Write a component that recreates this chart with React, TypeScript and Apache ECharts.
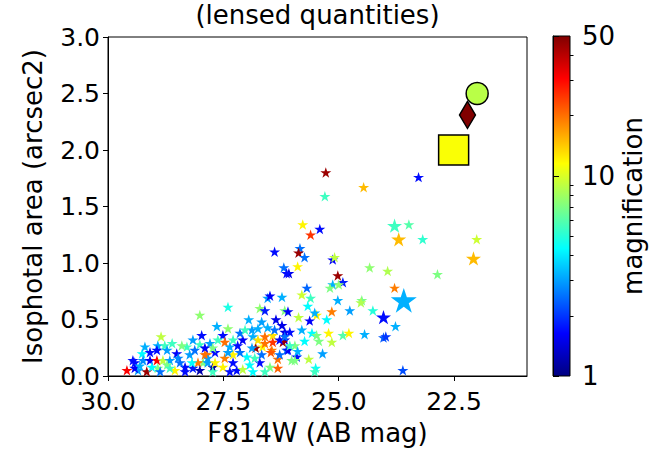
import React, { useEffect, useRef } from "react";
import * as echarts from "echarts";

const FONT = "DejaVu Sans";

// Regular star markers: F814W magnitude, isophotal area, magnification
const magAB = [
  25.28, 25.30, 24.46, 23.27, 25.78, 25.61, 25.41, 26.39, 25.84, 25.87, 25.74, 26.19, 26.08, 26.13, 25.89, 25.13,
  25.09, 25.02, 24.91, 25.13, 25.19, 25.00, 25.69, 25.80, 25.61, 25.67, 26.23, 26.17, 25.87, 25.48, 25.52, 25.63,
  25.15, 25.26, 25.02, 24.76, 24.50, 24.52, 25.80, 25.58, 25.48, 25.43, 25.22, 25.15, 24.91, 24.78, 24.44, 25.74,
  25.35, 25.65, 25.50, 26.36, 26.23, 26.17, 26.06, 26.17, 26.21, 26.43, 26.45, 26.32, 26.32, 25.91, 26.02, 26.13,
  23.48, 23.18, 22.01, 24.33, 23.94, 22.86, 23.79, 24.26, 23.77, 24.03, 23.98, 23.61,
  28.01, 27.40, 26.71, 26.60, 26.54, 26.49, 26.10, 26.95, 27.64, 27.40, 27.51, 27.47, 27.29, 27.08, 26.88, 26.75,
  26.54, 26.60, 26.43, 26.28, 26.80, 26.65, 26.47, 27.86, 27.68, 27.47, 27.29, 26.99, 26.88, 26.71, 27.73, 27.51,
  27.29, 27.21, 27.08, 26.93, 26.49, 27.94, 27.97, 27.84, 28.85, 28.92, 28.77, 28.94, 28.72, 28.51, 28.29, 28.01,
  27.79, 29.26, 29.42, 29.24, 29.09, 28.94, 28.81, 28.66, 28.48, 28.23, 28.05, 27.90, 29.59, 29.35, 29.16, 28.92,
  28.55, 28.33, 28.16, 27.84, 29.42, 29.05, 28.72, 28.18, 27.14, 26.86, 26.17, 26.10, 26.60, 29.46, 29.31, 27.62,
  27.36, 27.14, 26.82, 26.67, 28.44, 28.66, 28.12, 27.73, 26.28, 25.95, 25.89, 27.73, 26.86, 25.52,
  29.20, 29.09, 28.61, 28.40, 28.16, 27.90, 27.68, 27.40, 27.19, 27.03, 26.75, 26.67, 26.39, 26.06, 25.95, 28.33,
  28.87, 27.36, 26.60, 28.01,
];
const isoArea = [
  1.80, 1.59, 1.67, 1.76, 1.34, 1.25, 1.30, 1.10, 1.13, 1.09, 1.05, 0.96, 0.91, 0.91, 0.97, 1.03,
  1.05, 0.89, 0.83, 0.81, 0.78, 0.81, 0.78, 0.72, 0.69, 0.62, 0.70, 0.58, 0.52, 0.54, 0.56, 0.49,
  0.57, 0.50, 0.67, 0.58, 0.67, 0.65, 0.41, 0.38, 0.36, 0.31, 0.38, 0.30, 0.36, 0.38, 0.37, 0.31,
  0.20, 0.15, 0.07, 0.50, 0.45, 0.39, 0.39, 0.32, 0.30, 0.30, 0.23, 0.15, 0.07, 0.17, 0.14, 0.23,
  1.34, 1.21, 1.21, 0.96, 0.93, 0.90, 0.78, 0.58, 0.44, 0.34, 0.35, 0.05,
  0.54, 0.61, 0.60, 0.58, 0.69, 0.71, 0.57, 0.50, 0.44, 0.42, 0.36, 0.30, 0.32, 0.32, 0.41, 0.42,
  0.43, 0.35, 0.36, 0.32, 0.25, 0.26, 0.21, 0.19, 0.21, 0.16, 0.19, 0.17, 0.25, 0.12, 0.08, 0.08,
  0.12, 0.05, 0.06, 0.10, 0.08, 0.12, 0.36, 0.16, 0.35, 0.27, 0.27, 0.23, 0.23, 0.20, 0.26, 0.28,
  0.29, 0.20, 0.12, 0.14, 0.14, 0.14, 0.14, 0.14, 0.16, 0.19, 0.12, 0.19, 0.05, 0.05, 0.04, 0.07,
  0.05, 0.08, 0.07, 0.12, 0.07, 0.08, 0.10, 0.12, 0.38, 0.35, 0.35, 0.23, 0.29, 0.14, 0.09, 0.32,
  0.26, 0.21, 0.16, 0.19, 0.12, 0.07, 0.23, 0.25, 0.19, 0.27, 0.22, 0.04, 0.04, 0.04,
  0.26, 0.21, 0.29, 0.27, 0.32, 0.25, 0.12, 0.21, 0.27, 0.41, 0.32, 0.48, 0.41, 0.27, 0.14, 0.04,
  0.04, 0.04, 0.04, 0.05,
];
const magnification = [
  45, 5.5, 15, 1.7, 12, 25, 1.7, 1.7, 2.5, 45, 2.5, 2.5, 1.5, 1.7, 12, 1.6,
  9, 45, 1.8, 3.2, 7, 7.5, 2.4, 9.5, 5.5, 4.3, 3.2, 7, 9, 12, 3.2, 1.6,
  19, 4.3, 3.2, 3.0, 7, 8.5, 3.2, 4.3, 7, 7, 12, 9, 6, 12, 3.2, 4.3,
  3.0, 9, 4.5, 1.5, 1.5, 1.5, 1.7, 1.5, 45, 25, 19, 20, 21, 1.7, 7, 2.5,
  6, 5.2, 9.5, 7.5, 8.5, 7, 19, 5, 3.2, 2.3, 2.0, 2.2,
  7.5, 4.8, 7.5, 1.8, 3.0, 1.6, 1.6, 3.2, 3.2, 7.5, 1.7, 20, 5.5, 1.6, 3.0, 3.2,
  3.2, 20, 13, 1.6, 45, 12, 22, 20, 1.7, 19, 12, 4.3, 3.0, 1.7, 1.1, 12,
  1.7, 1.7, 9, 4.3, 7, 7, 1.7, 3.0, 9, 3.2, 5.5, 1.7, 3.0, 1.6, 5.5, 5.5,
  3.0, 4.3, 1.7, 2.8, 1.6, 31, 9, 3.0, 2.8, 3.0, 19, 20, 31, 3.0, 45, 7,
  12, 1.7, 1.8, 3.0, 1.6, 4.3, 7, 4.3, 2.5, 3.2, 2.5, 1.6, 20, 1.7, 3.2, 5.5,
  3.2, 2.5, 5.5, 2.5, 2.5, 5.5, 2.5, 7, 2.5, 7, 3.2, 5.5, 4.3, 5.5,
  3.2, 1.7, 5.5, 7, 3.0, 1.6, 12, 3.0, 1.7, 5.5, 13, 3.0, 2.5, 5.5, 7, 1.7,
  2.5, 1.7, 5.5, 1.2,
];

// Medium-sized stars
const medMag = [23.79, 23.70, 22.08, 24.03];
const medArea = [1.33, 1.21, 1.04, 0.52];
const medMagnification = [5.5, 15, 15, 1.7];

// Large star
const bigMag = [23.59];
const bigArea = [0.67];
const bigMagnification = [3.2];

// Highlighted objects
const circleMag = [22.0];
const circleArea = [2.5];
const circleMagnification = [8.8];
const diamondMag = [22.21];
const diamondArea = [2.31];
const diamondMagnification = [50];
const squareMag = [22.51];
const squareArea = [2.0];
const squareMagnification = [11.3];

const xTicks = [22.5, 25.0, 27.5, 30.0];
const cbMajor = [1, 10, 50];
const cbMinor = [2, 3, 4, 5, 6, 7, 8, 9, 20, 30, 40];

const JET = ["#000080", "#0000ff", "#0080ff", "#00ffff", "#80ff80", "#ffff00", "#ff8000", "#ff0000", "#800000"];

const STAR =
  "path://M100,0 L122.45,69.1 L195.1,69.1 L136.3,111.8 L158.8,180.9 L100,138.2 L41.2,180.9 L63.7,111.8 L4.9,69.1 L77.55,69.1 Z";

function build(xs: number[], ys: number[], ms: number[]) {
  return xs.map((x, i) => [x, ys[i], Math.log10(ms[i])]);
}

export default function App() {
  const ref = useRef<HTMLDivElement>(null);
  useEffect(() => {
    const chart = echarts.init(ref.current!, null, { renderer: "svg" });
    const txt = { fontFamily: FONT, color: "#000", fontSize: 26 };
    const tick = { fontFamily: FONT, color: "#000", fontSize: 25 };
    const starStyle = { opacity: 1 };
    const edgeStyle = { opacity: 1, borderColor: "#000", borderWidth: 1.5 };
    const option: any = {
      animation: false,
      backgroundColor: "#fff",
      grid: [
        { left: 108, top: 37, width: 419, height: 339, show: true, borderColor: "#000", borderWidth: 1, backgroundColor: "transparent" },
        { left: 553, top: 36, width: 17, height: 340, show: false },
      ],
      xAxis: [
        {
          gridIndex: 0,
          type: "value",
          inverse: true,
          min: 20.92,
          max: 30,
          axisLine: { show: true, onZero: false, lineStyle: { color: "#000", width: 1 } },
          axisTick: { show: true, customValues: xTicks, length: 5, lineStyle: { color: "#000" } },
          axisLabel: { customValues: xTicks, formatter: (v: number) => v.toFixed(1), margin: 13, ...tick },
          splitLine: { show: false },
          name: "F814W (AB mag)",
          nameLocation: "middle",
          nameGap: 44,
          nameTextStyle: txt,
        },
        { gridIndex: 1, type: "value", min: 0, max: 1, show: false },
      ],
      yAxis: [
        {
          gridIndex: 0,
          type: "value",
          min: 0,
          max: 3,
          interval: 0.5,
          axisLine: { show: true, onZero: false, lineStyle: { color: "#000", width: 1 } },
          axisTick: { show: true, length: 5, lineStyle: { color: "#000" } },
          axisLabel: { formatter: (v: number) => v.toFixed(1), margin: 8, ...tick },
          splitLine: { show: false },
          name: "Isophotal area (arcsec2)",
          nameLocation: "middle",
          nameGap: 62,
          nameRotate: 90,
          nameTextStyle: txt,
        },
        {
          gridIndex: 1,
          type: "log",
          logBase: 10,
          min: 1,
          max: 50,
          position: "right",
          axisLine: { show: true, lineStyle: { color: "#000", width: 1 } },
          axisTick: { show: true, customValues: cbMajor, length: 6, lineStyle: { color: "#000" } },
          axisLabel: { show: true, customValues: cbMajor, margin: 12, ...txt },
          splitLine: { show: false },
          name: "magnification",
          nameLocation: "middle",
          nameGap: 50,
          nameRotate: 90,
          nameTextStyle: txt,
        },
        {
          gridIndex: 1,
          type: "log",
          logBase: 10,
          min: 1,
          max: 50,
          position: "right",
          axisLine: { show: false },
          axisTick: { show: true, customValues: cbMinor, length: 3.5, lineStyle: { color: "#000" } },
          axisLabel: { show: false },
          splitLine: { show: false },
        },
      ],
      visualMap: {
        type: "continuous",
        show: false,
        dimension: 2,
        min: 0,
        max: Math.log10(50),
        seriesIndex: [0, 1, 2, 3, 4, 5],
        inRange: { color: JET },
      },
      graphic: [
        {
          type: "rect",
          z: 0,
          shape: { x: 553, y: 36, width: 17, height: 340 },
          style: {
            fill: new echarts.graphic.LinearGradient(0, 1, 0, 0, JET.map((c, i) => ({ offset: i / (JET.length - 1), color: c }))),
            stroke: "#000",
            lineWidth: 1,
          },
        },
        {
          type: "text",
          x: 317.5,
          y: 2,
          style: { text: "(lensed quantities)", textAlign: "center", font: `26px "${FONT}"`, fill: "#000" },
        },
      ],
      series: [
        {
          type: "scatter",
          xAxisIndex: 0,
          yAxisIndex: 0,
          symbol: STAR,
          symbolSize: 11,
          symbolKeepAspect: true,
          itemStyle: starStyle,
          data: build(magAB, isoArea, magnification),
        },
        {
          type: "scatter",
          xAxisIndex: 0,
          yAxisIndex: 0,
          symbol: STAR,
          symbolSize: 15,
          symbolKeepAspect: true,
          itemStyle: starStyle,
          data: build(medMag, medArea, medMagnification),
        },
        {
          type: "scatter",
          xAxisIndex: 0,
          yAxisIndex: 0,
          symbol: STAR,
          symbolSize: 26,
          symbolKeepAspect: true,
          itemStyle: starStyle,
          data: build(bigMag, bigArea, bigMagnification),
        },
        {
          type: "scatter",
          xAxisIndex: 0,
          yAxisIndex: 0,
          symbol: "circle",
          symbolSize: 22,
          itemStyle: edgeStyle,
          data: build(circleMag, circleArea, circleMagnification),
        },
        {
          type: "scatter",
          xAxisIndex: 0,
          yAxisIndex: 0,
          symbol: "diamond",
          symbolSize: [16, 27],
          itemStyle: edgeStyle,
          data: build(diamondMag, diamondArea, diamondMagnification),
        },
        {
          type: "scatter",
          xAxisIndex: 0,
          yAxisIndex: 0,
          symbol: "rect",
          symbolSize: 30,
          itemStyle: edgeStyle,
          data: build(squareMag, squareArea, squareMagnification),
        },
        { type: "scatter", xAxisIndex: 1, yAxisIndex: 1, data: [] },
        { type: "scatter", xAxisIndex: 1, yAxisIndex: 2, data: [] },
      ],
    };
    chart.setOption(option);
    return () => chart.dispose();
  }, []);
  return <div ref={ref} style={{ position: "fixed", left: 0, top: 0, width: 671, height: 451 }} />;
}
